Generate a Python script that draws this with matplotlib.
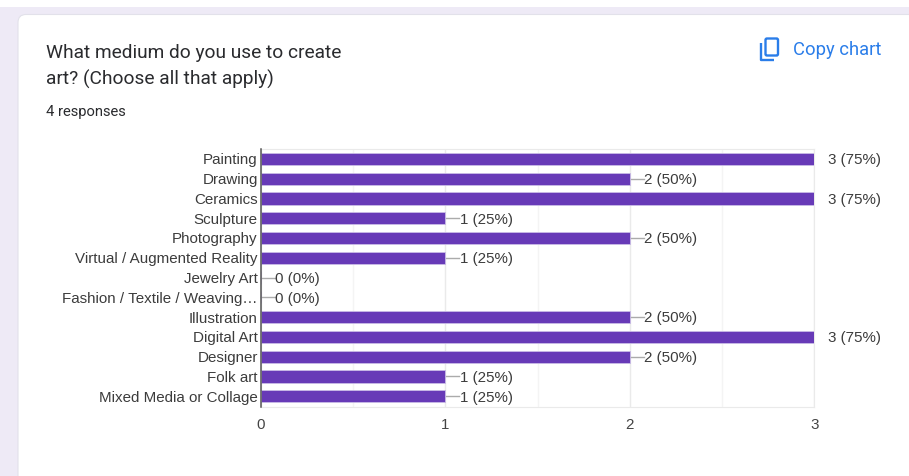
import matplotlib
matplotlib.use("Agg")
import matplotlib.pyplot as plt
from matplotlib.patches import FancyBboxPatch, Rectangle

categories = ["Painting", "Drawing", "Ceramics", "Sculpture", "Photography",
              "Virtual / Augmented Reality", "Jewelry Art",
              "Fashion / Textile / Weaving…", "Illustration", "Digital Art",
              "Designer", "Folk art", "Mixed Media or Collage"]
counts = [3, 2, 3, 1, 2, 1, 0, 0, 2, 3, 2, 1, 1]
percents = [75, 50, 75, 25, 50, 25, 0, 0, 50, 75, 50, 25, 25]
x_ticks = [0, 1, 2, 3]
title_lines = ["What medium do you use to create", "art? (Choose all that apply)"]
subtitle = "4 responses"
copy_label = "Copy chart"

W, H = 909, 476
PURPLE = "#673AB7"
LAVENDER = "#EEEAF6"
BLUE = "#2A7DE9"
DARK = "#2A2B2E"
TEXT = "#3C3C3C"
LABEL_SIZE = 10.9

fig = plt.figure(figsize=(W / 100, H / 100), dpi=100, facecolor="white")

# Page layer, addressed in pixels from the top-left corner
page = fig.add_axes([0, 0, 1, 1])
page.set_xlim(0, W)
page.set_ylim(H, 0)
page.axis("off")
page.add_patch(Rectangle((0, 7), W, H, fc=LAVENDER, ec="none"))
page.add_patch(FancyBboxPatch((18, 14.5), W + 60, H + 60,
                              boxstyle="round,pad=0,rounding_size=8",
                              fc="white", ec="#E2E1EA", lw=0.8))

for line, y in zip(title_lines, (52.5, 79.5)):
    page.text(46, y, line, family="Roboto", fontsize=13.75, color=DARK,
              va="center", ha="left")
page.text(46, 112, subtitle, family="Roboto", fontsize=10.6, color=DARK,
          va="center", ha="left")
page.text(793, 50, copy_label, family="Roboto", fontsize=13.2, color=BLUE,
          va="center", ha="left")

# Copy icon: front sheet plus the L-shaped edge of the sheet behind it
page.add_patch(FancyBboxPatch((765.5, 38.5), 12.5, 17,
                              boxstyle="round,pad=0,rounding_size=1.5",
                              fc="none", ec=BLUE, lw=1.7))
page.plot([761, 761, 774], [43, 60, 60], color=BLUE, lw=1.7,
          solid_capstyle="butt", solid_joinstyle="round")

# Chart layer
left, right, top, bottom = 260.5, 814.5, 149, 406.5
ax = fig.add_axes([left / W, 1 - bottom / H, (right - left) / W, (bottom - top) / H])
ax.set_xlim(0, 3)
ax.set_ylim(len(categories) - 0.5 + 0.02, -0.5 + 0.0)
ax.patch.set_alpha(0)
ax.set_axisbelow(True)

ax.set_xticks(x_ticks)
ax.set_xticks([0.5, 1.5, 2.5], minor=True)
ax.grid(axis="x", which="major", color="#EAEAEA", lw=1)
ax.grid(axis="x", which="minor", color="#F4F4F4", lw=1)
ax.tick_params(axis="both", which="both", length=0)
ax.tick_params(axis="x", pad=8, labelsize=LABEL_SIZE, labelcolor="#444444")
ax.tick_params(axis="y", pad=2, labelsize=LABEL_SIZE, labelcolor=TEXT)
for spine in ("top", "right", "bottom"):
    ax.spines[spine].set_color("#EAEAEA")
ax.spines["left"].set_color("#555555")
ax.spines["left"].set_linewidth(1.1)
ax.spines["left"].set_zorder(5)

y_pos = range(len(categories))
ax.barh(list(y_pos), counts, height=0.62, color=PURPLE,
        edgecolor="#C9BCE6", linewidth=0.6, zorder=3)
ax.set_yticks(list(y_pos), categories)

px = 3 / (right - left)
for y, c, p in zip(y_pos, counts, percents):
    label = f"{c} ({p}%)"
    if c == max(x_ticks):
        ax.annotate(label, (c, y + 0.07), xytext=(10, 0), textcoords="offset points",
                    va="center", ha="left", fontsize=LABEL_SIZE, color=TEXT,
                    annotation_clip=False)
    else:
        ax.plot([c, c + 14 * px], [y, y], color="#ABABAB", lw=1, zorder=2,
                clip_on=False)
        ax.text(c + 14.5 * px, y + 0.07, label, va="center", ha="left",
                fontsize=LABEL_SIZE, color=TEXT)

for t in ax.get_xticklabels() + ax.get_yticklabels():
    t.set_family("Liberation Sans")
for t in ax.texts:
    t.set_family("Liberation Sans")

fig.savefig("out.png", dpi=100)
